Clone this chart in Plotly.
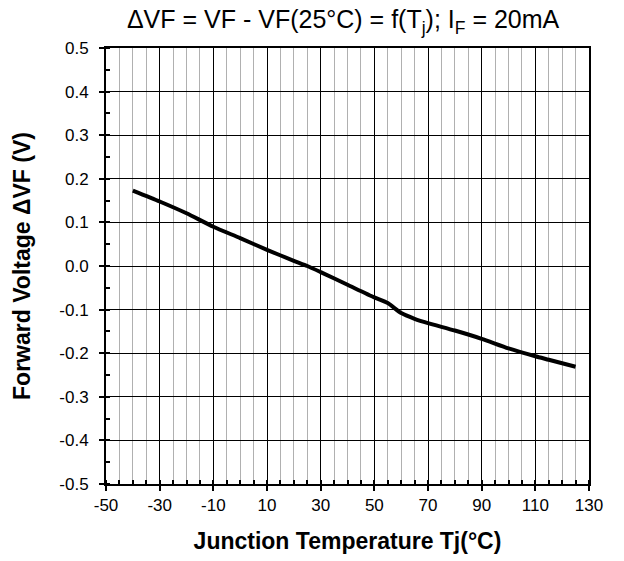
import plotly.graph_objects as go

temps = [-40, -30, -20, -10, 0, 10, 20, 25, 30, 40, 50, 55, 60, 65, 70, 80, 90, 100, 110, 115, 125]
dvf = [0.173, 0.148, 0.121, 0.090, 0.064, 0.037, 0.012, 0.0, -0.014, -0.043, -0.072, -0.085,
       -0.108, -0.121, -0.131, -0.148, -0.167, -0.189, -0.207, -0.215, -0.231]

x_tickvals = [-50, -30, -10, 10, 30, 50, 70, 90, 110, 130]
x_ticktext = ["-50", "-30", "-10", "10", "30", "50", "70", "90", "110", "130"]
y_tickvals = [0.5, 0.4, 0.3, 0.2, 0.1, 0.0, -0.1, -0.2, -0.3, -0.4, -0.5]
y_ticktext = ["0.5", "0.4", "0.3", "0.2", "0.1", "0.0", "-0.1", "-0.2", "-0.3", "-0.4", "-0.5"]

fig = go.Figure()
fig.add_trace(go.Scatter(x=temps, y=dvf, mode="lines",
                         line=dict(color="black", width=4, shape="spline", smoothing=0.6),
                         showlegend=False, hoverinfo="skip"))

font = "Liberation Sans, Arial, sans-serif"
fig.update_layout(
    width=616, height=553,
    margin=dict(l=98, r=35, t=40, b=77, autoexpand=False),
    paper_bgcolor="white", plot_bgcolor="white",
    font=dict(family=font, color="black", size=17),
    title=dict(text="ΔVF = VF - VF(25°C) = f(T<sub>j</sub>); I<sub>F</sub> = 20mA",
               x=0.544, xanchor="center", y=0.979, yanchor="middle",
               font=dict(size=25, family=font, color="black")),
)
fig.update_xaxes(
    range=[-50, 130], tickmode="array", tickvals=x_tickvals, ticktext=x_ticktext,
    ticks="outside", ticklen=5, tickcolor="black", tickwidth=1.5,
    showgrid=True, gridcolor="black", gridwidth=1,
    minor=dict(dtick=5, tick0=-50, showgrid=True, gridcolor="#b0b0b0", gridwidth=1,
               ticks="inside", ticklen=4, tickcolor="black", tickwidth=1.5),
    showline=True, linecolor="black", linewidth=2, mirror=True, zeroline=False,
    automargin=False,
    tickfont=dict(size=17, family=font, color="black"),
    title=dict(text="<b>Junction Temperature Tj(°C)</b>", standoff=18,
               font=dict(size=23, family=font, color="black")),
)
fig.update_yaxes(
    range=[-0.5, 0.5], tickmode="array", tickvals=y_tickvals, ticktext=y_ticktext,
    ticks="outside", ticklen=5, tickcolor="black", tickwidth=1.5,
    ticklabelstandoff=7,
    showgrid=True, gridcolor="black", gridwidth=1,
    minor=dict(dtick=0.05, tick0=-0.5, showgrid=False,
               ticks="inside", ticklen=4, tickcolor="black", tickwidth=1.5),
    showline=True, linecolor="black", linewidth=2, mirror=True, zeroline=False,
    automargin=False,
    tickfont=dict(size=17, family=font, color="black"),
    title=dict(text="<b>Forward Voltage ΔVF (V)</b>", standoff=22,
               font=dict(size=23, family=font, color="black")),
)

fig.write_html("out.html")
